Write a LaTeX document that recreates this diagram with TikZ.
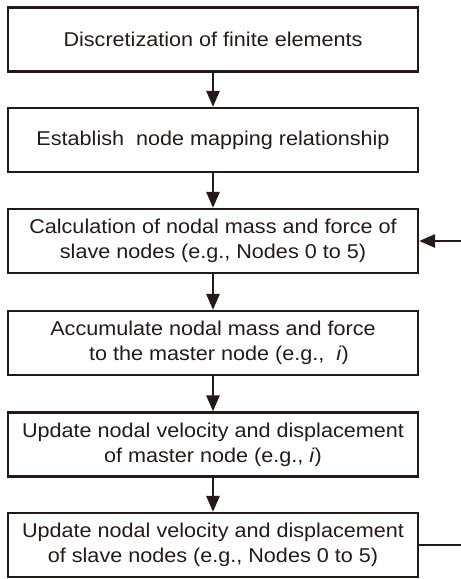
\documentclass[tikz,border=0pt]{standalone}
\usepackage{fontspec}
\setmainfont{Liberation Sans}[FakeStretch=1.08]
\usepackage{xcolor}
\usepackage{tikz}
\usetikzlibrary{arrows.meta, positioning}

\definecolor{ink}{RGB}{38,26,22}
\tikzset{
  stepbox/.style={draw=ink, text=ink, line width=2.2pt, minimum width=410pt,
    minimum height=64pt, inner sep=0pt, align=center,
    font=\fontsize{20}{25}\selectfont},
  flow/.style={draw=ink, line width=2.6pt, -{Triangle[length=16pt,width=13pt]}},
  link/.style={draw=ink, line width=2.2pt}
}

\begin{document}
\begin{tikzpicture}[x=1pt,y=1pt]
	\useasboundingbox (0,0) rectangle (461,-579);
	\node[stepbox] (disc) at (213,-39.5) {Discretization of finite elements};
	\node[stepbox] (map) at (213,-140) {Establish\ \ node mapping relationship};
	\node[stepbox] (slave) at (213,-241) {Calculation of nodal mass and force of\\slave nodes (e.g., Nodes 0 to 5)};
	\node[stepbox] (accu) at (213,-343) {Accumulate nodal mass and force\\\ \ to the master node (e.g.,\ \ \textit{i})};
	\node[stepbox] (upmaster) at (213,-444.5) {Update nodal velocity and displacement\\of master node (e.g., \textit{i})};
	\node[stepbox] (upslave) at (213,-545) {Update nodal velocity and displacement\\of slave nodes (e.g., Nodes 0 to 5)};
	\coordinate (loopin) at (461,-241);
	\coordinate (loopout) at (461,-545);
	\draw[flow] (disc) -- (map);
	\draw[flow] (map) -- (slave);
	\draw[flow] (slave) -- (accu);
	\draw[flow] (accu) -- (upmaster);
	\draw[flow] (upmaster) -- (upslave);
	\draw[flow] (loopin) -- (slave);
	\draw[link] (upslave) -- (loopout);
\end{tikzpicture}
\end{document}
